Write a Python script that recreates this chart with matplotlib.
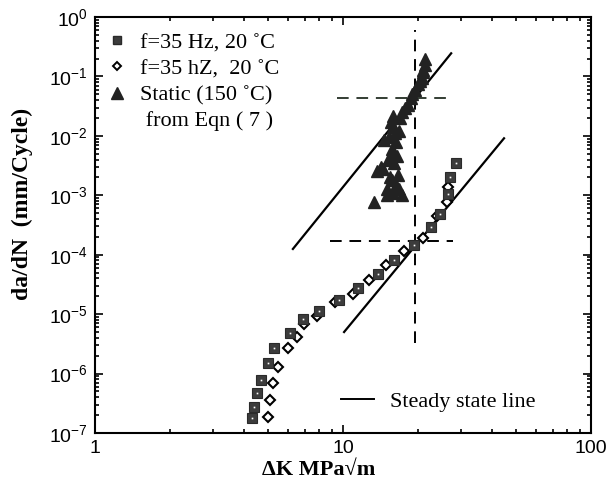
import numpy as np
import matplotlib
matplotlib.use("Agg")
import matplotlib.pyplot as plt
from matplotlib.ticker import FixedLocator, FuncFormatter, NullFormatter
from matplotlib.lines import Line2D

# ---- data ----
sq_K = [4.30, 4.38, 4.50, 4.67, 4.99, 5.27, 6.11, 6.90, 8.0, 9.6, 11.5, 13.8,
        16.1, 19.3, 22.6, 24.6, 26.5, 27.0, 28.6]
sq_da = [1.8e-7, 2.75e-7, 4.8e-7, 7.9e-7, 1.5e-6, 2.7e-6, 4.8e-6, 8.3e-6, 1.12e-5,
         1.73e-5, 2.75e-5, 4.7e-5, 8.1e-5, 1.45e-4, 2.9e-4, 4.8e-4, 1.05e-3, 2.0e-3, 3.5e-3]

di_K = [4.99, 5.08, 5.22, 5.47, 6.0, 6.53, 6.96, 7.86, 9.28, 11.0, 12.7, 14.9,
        17.6, 21.0, 23.9, 26.3, 26.5]
di_da = [1.87e-7, 3.6e-7, 6.9e-7, 1.3e-6, 2.7e-6, 4.2e-6, 6.8e-6, 9.3e-6, 1.6e-5,
         2.2e-5, 3.7e-5, 6.7e-5, 1.15e-4, 1.9e-4, 4.5e-4, 7.6e-4, 1.36e-3]

tr_K = [13.3, 15.0, 17.3, 15.9, 15.7, 16.4, 13.7, 14.5, 16.0, 15.2, 16.6, 16.0,
        15.7, 14.7, 15.3, 16.3, 15.9, 16.8, 15.9, 17.0, 17.3, 18.3, 18.8, 19.5,
        20.1, 20.8, 21.1, 21.4, 21.5, 21.0, 14.2, 16.8, 15.0, 16.2, 15.6, 17.8,
        16.5, 15.4, 19.0, 20.5]
tr_da = [7.7e-4, 1.0e-3, 1.0e-3, 1.1e-3, 1.8e-3, 1.5e-3, 2.6e-3, 2.8e-3, 3.5e-3,
         4.0e-3, 2.2e-3, 5.0e-3, 6.0e-3, 8.5e-3, 9.5e-3, 8.0e-3, 1.4e-2, 1.2e-2,
         2.2e-2, 2.0e-2, 2.5e-2, 3.3e-2, 4.3e-2, 5.9e-2, 7.6e-2, 9.3e-2, 0.118,
         0.154, 0.20, 0.13, 3.0e-3, 1.3e-3, 1.3e-3, 1.1e-2, 1.7e-2, 3.0e-2,
         4.5e-3, 2.0e-3, 5.0e-2, 8.5e-2]

upper_K = [6.28, 27.3]
upper_da = [1.25e-4, 0.245]
lower_K = [10.1, 44.6]
lower_da = [5.0e-6, 9.1e-3]

vline_K = 19.5
vline_da = [3.3e-6, 0.6]
h1_da, h1_K = 0.0426, [9.46, 27.7]
h2_da, h2_K = 1.72e-4, [8.9, 27.7]

x_ticks = [1, 10, 100]
y_exps = [-7, -6, -5, -4, -3, -2, -1, 0]

labels = ["f=35 Hz, 20 \u02daC", "f=35 hZ,  20 \u02daC", "Static (150 \u02daC)", " from Eqn ( 7 )"]
line_label = "Steady state line"

serif = ["Liberation Serif", "DejaVu Serif"]
sans = ["Liberation Sans", "DejaVu Sans"]

fig = plt.figure(figsize=(6.10, 4.98), dpi=100)
ax = fig.add_axes([95/610, 65/498, 496/610, 416/498])
ax.set_xscale("log")
ax.set_yscale("log")
ax.set_xlim(1, 100)
ax.set_ylim(1e-7, 1)

# steady state lines
ax.plot(upper_K, upper_da, color="black", lw=1.6)
ax.plot(lower_K, lower_da, color="black", lw=1.6)
# dashed guides
ax.plot([vline_K, vline_K], vline_da, color="black", lw=1.4, dashes=(6, 4))
ax.plot(h1_K, [h1_da, h1_da], color="#333d33", lw=1.4, dashes=(6, 4))
ax.plot(h2_K, [h2_da, h2_da], color="black", lw=1.4, dashes=(6, 4))

# data
ax.plot(tr_K, tr_da, ls="none", marker="^", ms=8.5, color="#222222", mec="#222222")
ax.plot(di_K, di_da, ls="none", marker="D", ms=5.0, mfc="white", mec="black", mew=1.5)
ax.plot(sq_K, sq_da, ls="none", marker="s", ms=7.2, mfc="#3c3c3c", mec="#2a2a2a", mew=0.8)
ax.plot(sq_K, sq_da, ls="none", marker="s", ms=1.2, mfc="white", mec="none")

# ticks
y_ticks = [10.0 ** e for e in y_exps]
ax.xaxis.set_major_locator(FixedLocator(x_ticks))
ax.yaxis.set_major_locator(FixedLocator(y_ticks))
x_minor = [m * d for d in x_ticks[:-1] for m in range(2, 10)]
y_minor = [m * d for d in y_ticks[:-1] for m in range(2, 10)]
ax.xaxis.set_minor_locator(FixedLocator(x_minor))
ax.yaxis.set_minor_locator(FixedLocator(y_minor))
ax.xaxis.set_minor_formatter(NullFormatter())
ax.yaxis.set_minor_formatter(NullFormatter())
ax.tick_params(which="both", direction="in", top=True, right=True, width=1.2, color="black")
ax.tick_params(which="major", length=6)
ax.tick_params(which="minor", length=3)
ax.xaxis.set_major_formatter(FuncFormatter(lambda v, p: "%d" % round(v)))
ax.yaxis.set_major_formatter(FuncFormatter(lambda v, p: r"$\mathregular{10^{%d}}$" % round(np.log10(v))))
for lab in ax.get_xticklabels() + ax.get_yticklabels():
    lab.set_family(sans)
    lab.set_fontsize(14)
ax.tick_params(axis="x", pad=5)
ax.tick_params(axis="y", pad=5)
for s in ax.spines.values():
    s.set_linewidth(1.5)

ax.set_xlabel("\u0394K MPa\u221am", family=serif, fontsize=16, fontweight="bold")
ax.set_ylabel("da/dN  (mm/Cycle)", family=serif, fontsize=17, fontweight="bold")
ax.xaxis.set_label_coords(0.45, -0.065)
ax.yaxis.set_label_coords(-0.125, 0.55)

handles = [
    Line2D([], [], ls="none", marker="s", ms=6, mfc="#3c3c3c", mec="#2a2a2a"),
    Line2D([], [], ls="none", marker="D", ms=4.5, mfc="white", mec="black", mew=1.4),
    Line2D([], [], ls="none", marker="^", ms=8, color="#222222"),
    Line2D([], [], ls="none"),
]
leg1 = ax.legend(handles, labels, loc="upper left", bbox_to_anchor=(-0.01, 1.0),
                 frameon=False, handlelength=1.0, handletextpad=0.55, labelspacing=0.25,
                 borderaxespad=0.3, prop={"family": serif, "size": 16})
ax.add_artist(leg1)
leg2 = ax.legend([Line2D([], [], color="black", lw=1.4)], [line_label], loc="center left",
                 bbox_to_anchor=(0.455, 0.075), frameon=False, handlelength=1.5,
                 handletextpad=0.7, prop={"family": serif, "size": 16})

fig.savefig("out.png", dpi=100)
